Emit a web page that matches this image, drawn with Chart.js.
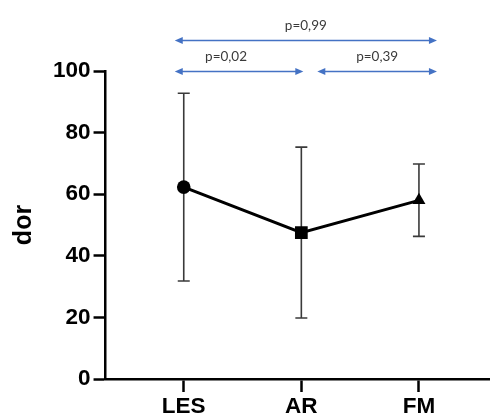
<!DOCTYPE html>
<html>
<head>
<meta charset="utf-8">
<script src="https://cdn.jsdelivr.net/npm/chart.js@4.4.0/dist/chart.umd.min.js"></script>
<style>
  html, body { margin: 0; padding: 0; background: #fff; }
  #wrap { width: 491px; height: 416px; overflow: hidden; }
  #inner { width: 497px; height: 424px; position: relative; }
</style>
</head>
<body>
<div id="wrap"><div id="inner"><canvas id="myChart"></canvas></div></div>
<script>
// groups and their values (mean, upper and lower end of the error bar)
const groups = ['LES', 'AR', 'FM'];
const means = [62.3, 47.5, 58];
const errHigh = [92.8, 75.3, 69.8];
const errLow = [31.8, 19.8, 46.3];
const yTicks = [0, 20, 40, 60, 80, 100];

// p values between groups (index pairs)
const compareFrom = [0, 1, 0];
const compareTo = [1, 2, 2];
const pValues = ['p=0,02', 'p=0,39', 'p=0,99'];
const compareLevel = [100, 100, 110];

const xPos = groups.map((g, i) => i + 1);

// error bars behind the line
const errorBars = {
  id: 'errorBars',
  beforeDatasetsDraw(chart) {
    const ctx = chart.ctx;
    const x = chart.scales.x, y = chart.scales.y;
    ctx.save();
    ctx.strokeStyle = '#3a3a3a';
    ctx.lineWidth = 1.6;
    for (var i = 0; i < groups.length; i++) {
      const px = x.getPixelForValue(xPos[i]);
      const top = y.getPixelForValue(errHigh[i]);
      const bot = y.getPixelForValue(errLow[i]);
      ctx.beginPath();
      ctx.moveTo(px, top); ctx.lineTo(px, bot);
      ctx.moveTo(px - 6, top); ctx.lineTo(px + 6, top);
      ctx.moveTo(px - 6, bot); ctx.lineTo(px + 6, bot);
      ctx.stroke();
    }
    ctx.restore();
  }
};

function arrowHead(ctx, x, y, dir) {
  ctx.beginPath();
  ctx.moveTo(x, y);
  ctx.lineTo(x - dir * 8, y - 3.5);
  ctx.lineTo(x - dir * 8, y + 3.5);
  ctx.closePath();
  ctx.fill();
}

// blue arrows with the p values above the plot
const pArrows = {
  id: 'pArrows',
  afterDraw(chart) {
    const ctx = chart.ctx;
    const x = chart.scales.x, y = chart.scales.y;
    ctx.save();
    for (var i = 0; i < pValues.length; i++) {
      var x1 = x.getPixelForValue(xPos[compareFrom[i]]);
      var x2 = x.getPixelForValue(xPos[compareTo[i]]);
      // small gap where two arrows meet at the middle group
      x1 += compareFrom[i] === 0 ? -9 : 16;
      x2 += compareTo[i] === 2 ? 18 : 2;
      const py = Math.round(y.getPixelForValue(compareLevel[i])) + 0.5;
      ctx.strokeStyle = '#4472c4';
      ctx.fillStyle = '#4472c4';
      ctx.lineWidth = 1.3;
      ctx.beginPath();
      ctx.moveTo(x1 + 4, py); ctx.lineTo(x2 - 4, py);
      ctx.stroke();
      arrowHead(ctx, x1, py, -1);
      arrowHead(ctx, x2, py, 1);
      // the first label sits a bit left of its arrow's middle
      var tx = (x1 + x2) / 2;
      if (i === 0) tx -= 13;
      ctx.fillStyle = '#3a3a3a';
      ctx.font = '13.5px Lato, "Open Sans", sans-serif';
      ctx.textAlign = 'center';
      ctx.textBaseline = 'bottom';
      ctx.fillText(pValues[i], tx, py - 8);
    }
    ctx.restore();
  }
};

const tickFont = { family: '"Liberation Sans", Arial, sans-serif', size: 22.5, weight: 'bold' };

new Chart(document.getElementById('myChart').getContext('2d'), {
  type: 'line',
  data: {
    datasets: [{
      data: xPos.map((v, i) => ({ x: v, y: means[i] })),
      borderColor: '#000',
      backgroundColor: '#000',
      borderWidth: 3,
      pointStyle: ['circle', 'rect', 'triangle'],
      pointRadius: [6.8, 9, 7.5],
      pointBorderWidth: 0,
      tension: 0
    }]
  },
  options: {
    responsive: true,
    maintainAspectRatio: false,
    animation: false,
    layout: { padding: { top: 71, right: 0, bottom: 3, left: 9 } },
    plugins: { legend: { display: false }, tooltip: { enabled: false } },
    scales: {
      x: {
        type: 'linear',
        min: 0.335,
        max: 3.6,
        afterBuildTicks(axis) { axis.ticks = xPos.map(v => ({ value: v })); },
        ticks: {
          color: '#000',
          font: tickFont,
          padding: 1,
          callback: (v) => groups[v - 1]
        },
        grid: { drawOnChartArea: false, drawTicks: true, tickLength: 13, tickWidth: 2.5, tickColor: '#000' },
        border: { display: true, color: '#000', width: 2.5 }
      },
      y: {
        min: 0,
        max: 100,
        afterBuildTicks(axis) { axis.ticks = yTicks.map(v => ({ value: v })); },
        ticks: { color: '#000', font: tickFont, padding: 3 },
        grid: { drawOnChartArea: false, drawTicks: true, tickLength: 12, tickWidth: 2.5, tickColor: '#000' },
        border: { display: true, color: '#000', width: 2.5 },
        title: {
          display: true,
          text: 'dor',
          color: '#000',
          font: { family: '"Liberation Sans", Arial, sans-serif', size: 25, weight: 'bold' },
          padding: { top: 0, bottom: 11 }
        }
      }
    }
  },
  plugins: [errorBars, pArrows]
});
</script>
</body>
</html>
